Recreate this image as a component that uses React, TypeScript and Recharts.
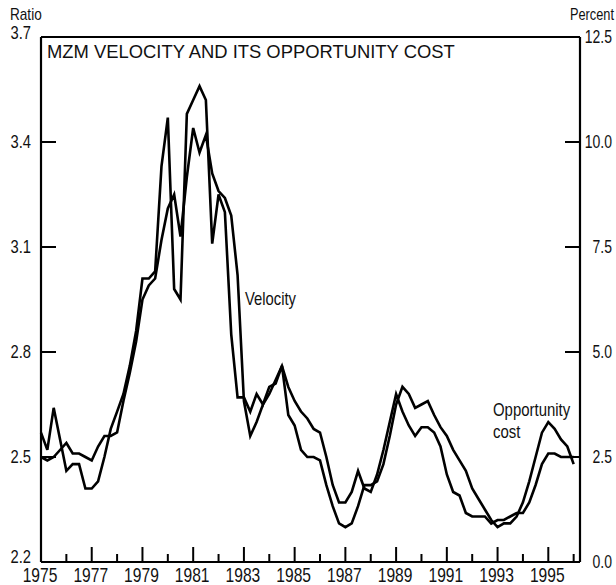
import React from 'react';
import { LineChart, Line, XAxis, YAxis, ReferenceLine } from 'recharts';

// Quarterly observations, 1975Q1 .. 1996Q1
const START_YEAR = 1975;

// MZM velocity (ratio, left axis)
const velocity = [
  2.50, 2.49, 2.50, 2.52,
  2.54, 2.51, 2.51, 2.50,
  2.49, 2.53, 2.56, 2.56,
  2.57, 2.66, 2.74, 2.83,
  2.95, 2.99, 3.01, 3.12,
  3.21, 3.25, 3.13, 3.30,
  3.44, 3.37, 3.42, 3.31,
  3.26, 3.24, 3.19, 3.02,
  2.66, 2.56, 2.60, 2.65,
  2.68, 2.72, 2.76, 2.70,
  2.66, 2.63, 2.61, 2.58,
  2.57, 2.50, 2.42, 2.37,
  2.37, 2.40, 2.46, 2.41,
  2.40, 2.45, 2.52, 2.60,
  2.68, 2.63, 2.59, 2.56,
  2.585, 2.585, 2.57, 2.53,
  2.45, 2.40, 2.39, 2.34,
  2.33, 2.33, 2.33, 2.31,
  2.32, 2.32, 2.33, 2.34,
  2.34, 2.37, 2.42, 2.48,
  2.51, 2.51, 2.50, 2.50,
  2.50,
];

// Opportunity cost (percent, right axis)
const opportunityCost = [
  3.08, 2.67, 3.67, 2.92,
  2.17, 2.33, 2.33, 1.75,
  1.75, 1.92, 2.50, 3.17,
  3.58, 4.00, 4.67, 5.50,
  6.75, 6.75, 6.92, 9.42,
  10.58, 6.50, 6.25, 10.67,
  11.00, 11.33, 11.00, 7.58,
  8.75, 8.33, 5.42, 3.92,
  3.92, 3.58, 4.00, 3.75,
  4.17, 4.25, 4.67, 3.50,
  3.25, 2.67, 2.50, 2.50,
  2.42, 1.83, 1.33, 0.92,
  0.83, 0.92, 1.33, 1.83,
  1.83, 1.92, 2.33, 3.00,
  3.75, 4.17, 4.00, 3.67,
  3.75, 3.83, 3.50, 3.21,
  3.00, 2.67, 2.42, 2.17,
  1.75, 1.50, 1.25, 1.00,
  0.83, 0.92, 0.92, 1.08,
  1.42, 1.92, 2.50, 3.08,
  3.33, 3.17, 2.92, 2.75,
  2.33,
];

const yearTicks = [
  1975, 1976, 1977, 1978, 1979, 1980, 1981, 1982, 1983, 1984, 1985,
  1986, 1987, 1988, 1989, 1990, 1991, 1992, 1993, 1994, 1995, 1996,
];
const ratioTicks = [2.2, 2.5, 2.8, 3.1, 3.4, 3.7];
const percentTicks = [0, 2.5, 5, 7.5, 10, 12.5];

const data = velocity.map((v, i) => ({
  t: START_YEAR + i * 0.25,
  velocity: v,
  cost: opportunityCost[i],
}));

const FONT = "'Liberation Sans', Arial, Helvetica, sans-serif";
const INK = '#111';

const CondText = ({ x, y, anchor = 'start', size = 17, sx = 0.82, children }: any) => (
  <text
    transform={`translate(${x},${y}) scale(${sx},1)`}
    textAnchor={anchor}
    fontSize={size}
    fontFamily={FONT}
    fill={INK}
  >
    {children}
  </text>
);

const XTick = (props: any) => {
  const { x, y, payload } = props;
  const yr = Math.round(payload.value);
  const major = yr % 2 === 1;
  return (
    <g>
      <line x1={x} x2={x} y1={y} y2={y - (major ? 15 : 8)} stroke="#000" strokeWidth={2} />
      {major && (
        <CondText x={x - 1} y={y + 20} anchor="middle" size={20} sx={0.78}>
          {String(yr)}
        </CondText>
      )}
    </g>
  );
};

const LeftTick = (props: any) => {
  const { x, y, payload } = props;
  const v = payload.value;
  let off = 0;
  if (Math.abs(v - 2.2) < 1e-6) off = -5;
  if (Math.abs(v - 3.7) < 1e-6) off = -4;
  return (
    <g>
      <line x1={x} x2={x + 15} y1={y} y2={y} stroke="#000" strokeWidth={2} />
      <CondText x={x - 10} y={y + 6 + off} anchor="end" size={18} sx={0.82}>
        {v.toFixed(1)}
      </CondText>
    </g>
  );
};

const RightTick = (props: any) => {
  const { y, payload } = props;
  const x = props.x;
  const v = payload.value;
  return (
    <g>
      <line x1={x} x2={x - 15} y1={y} y2={y} stroke="#000" strokeWidth={2} />
      <CondText x={612} y={y + 6} anchor="end" size={17.5} sx={0.8}>
        {v.toFixed(1)}
      </CondText>
    </g>
  );
};

export default function App() {
  return (
    <div style={{ position: 'absolute', left: 0, top: 0, width: 616, height: 585, background: '#fff' }}>
      <LineChart
        width={616}
        height={585}
        data={data}
        margin={{ top: 37, right: 0, bottom: 0, left: 0 }}
      >
        <XAxis
          type="number"
          dataKey="t"
          domain={[1975, 1996.25]}
          ticks={yearTicks}
          interval={0}
          tickSize={0}
          tickMargin={0}
          tickLine={false}
          tick={<XTick />}
          axisLine={{ stroke: '#000', strokeWidth: 2.2 }}
          height={23}
        />
        <YAxis
          yAxisId="left"
          domain={[2.2, 3.7]}
          ticks={ratioTicks}
          interval={0}
          tickSize={0}
          tickMargin={0}
          tickLine={false}
          tick={<LeftTick />}
          axisLine={{ stroke: '#000', strokeWidth: 2.2 }}
          width={41}
        />
        <YAxis
          yAxisId="right"
          orientation="right"
          domain={[0, 12.5]}
          ticks={percentTicks}
          interval={0}
          tickSize={0}
          tickMargin={0}
          tickLine={false}
          tick={<RightTick />}
          axisLine={{ stroke: '#000', strokeWidth: 2.2 }}
          width={36}
        />
        <ReferenceLine yAxisId="left" y={3.7} stroke="#000" strokeWidth={2} />
        <Line
          yAxisId="left"
          type="linear"
          dataKey="velocity"
          stroke="#000"
          strokeWidth={2.6}
          dot={false}
          isAnimationActive={false}
        />
        <Line
          yAxisId="right"
          type="linear"
          dataKey="cost"
          stroke="#000"
          strokeWidth={2.6}
          dot={false}
          isAnimationActive={false}
        />
      </LineChart>
      <svg
        width={616}
        height={585}
        style={{ position: 'absolute', left: 0, top: 0, pointerEvents: 'none' }}
      >
        <CondText x={10} y={20} size={16} sx={0.85}>Ratio</CondText>
        <CondText x={614} y={20} anchor="end" size={16} sx={0.8}>Percent</CondText>
        <text x={47} y={58} fontSize={18.4} fontFamily={FONT} fill={INK}>
          MZM VELOCITY AND ITS OPPORTUNITY COST
        </text>
        <CondText x={245} y={305} size={18.5} sx={0.8}>Velocity</CondText>
        <CondText x={493} y={416} size={18} sx={0.83}>Opportunity</CondText>
        <CondText x={493} y={438} size={18} sx={0.83}>cost</CondText>
      </svg>
    </div>
  );
}
